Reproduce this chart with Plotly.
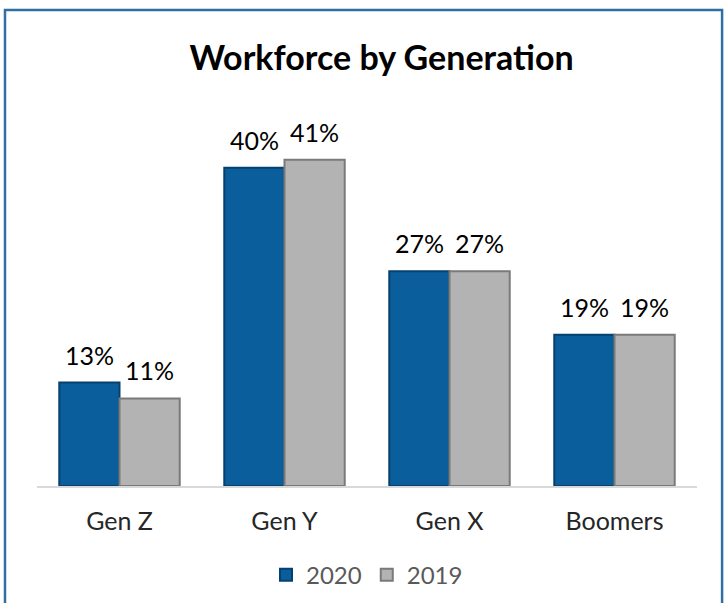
"""
Workforce by Generation - grouped bar chart, 2020 vs 2019
"""
import plotly.graph_objects as go

# data
generations = ['Gen Z', 'Gen Y', 'Gen X', 'Boomers']
share_2020 = [13, 40, 27, 19]
share_2019 = [11, 41, 27, 19]

fig = go.Figure()

# 2020 bars (blue), 2019 bars (gray)
fig.add_trace(go.Bar(x=generations, y=share_2020, name='2020',
                     marker=dict(color='#0B5E9C', line=dict(color='#06406E', width=2))))
fig.add_trace(go.Bar(x=generations, y=share_2019, name='2019',
                     marker=dict(color='#B3B3B3', line=dict(color='#7A7A7A', width=2))))

# value labels above the bars (annotations give more room above the bar than bar text)
for vals, shift in [(share_2020, -30), (share_2019, 30)]:
    for g, v in zip(generations, vals):
        fig.add_annotation(x=g, y=v, text=str(v) + '%', showarrow=False,
                           xshift=shift, yshift=28, yanchor='middle',
                           font=dict(size=25, color='#000000'))

fig.update_layout(
    width=724, height=603,
    font=dict(family='Lato, Open Sans, sans-serif'),
    title=dict(text='<b>Workforce by Generation</b>', x=0.527, xanchor='center',
               y=0.904, yanchor='middle', font=dict(size=34, color='#000000')),
    barmode='group', bargap=0.27, bargroupgap=0,
    plot_bgcolor='white', paper_bgcolor='white',
    margin=dict(l=37, r=27, t=128, b=117),
    showlegend=True,
    legend=dict(orientation='h', x=0.5, xanchor='center',
                yref='container', y=0.046, yanchor='middle',
                font=dict(size=24, color='#595959')),
    xaxis=dict(showline=True, linecolor='#D9D9D9', linewidth=2, ticks='',
               ticklabelstandoff=12, automargin=False,
               tickfont=dict(size=25, color='#262626')),
    yaxis=dict(range=[0, 45], visible=False, showgrid=False, automargin=False),
)

# blue frame around the chart
fig.add_shape(type='rect', xref='paper', yref='paper',
              x0=-0.0485, x1=1.038, y0=-0.4, y1=1.3296,
              line=dict(color='#2F6FA3', width=2.5), layer='below')

# drop the default page margin so the figure sits at the window's corner
fig.write_html("out.html", config={'displayModeBar': False},
               post_script="document.body.style.margin='0px';")
